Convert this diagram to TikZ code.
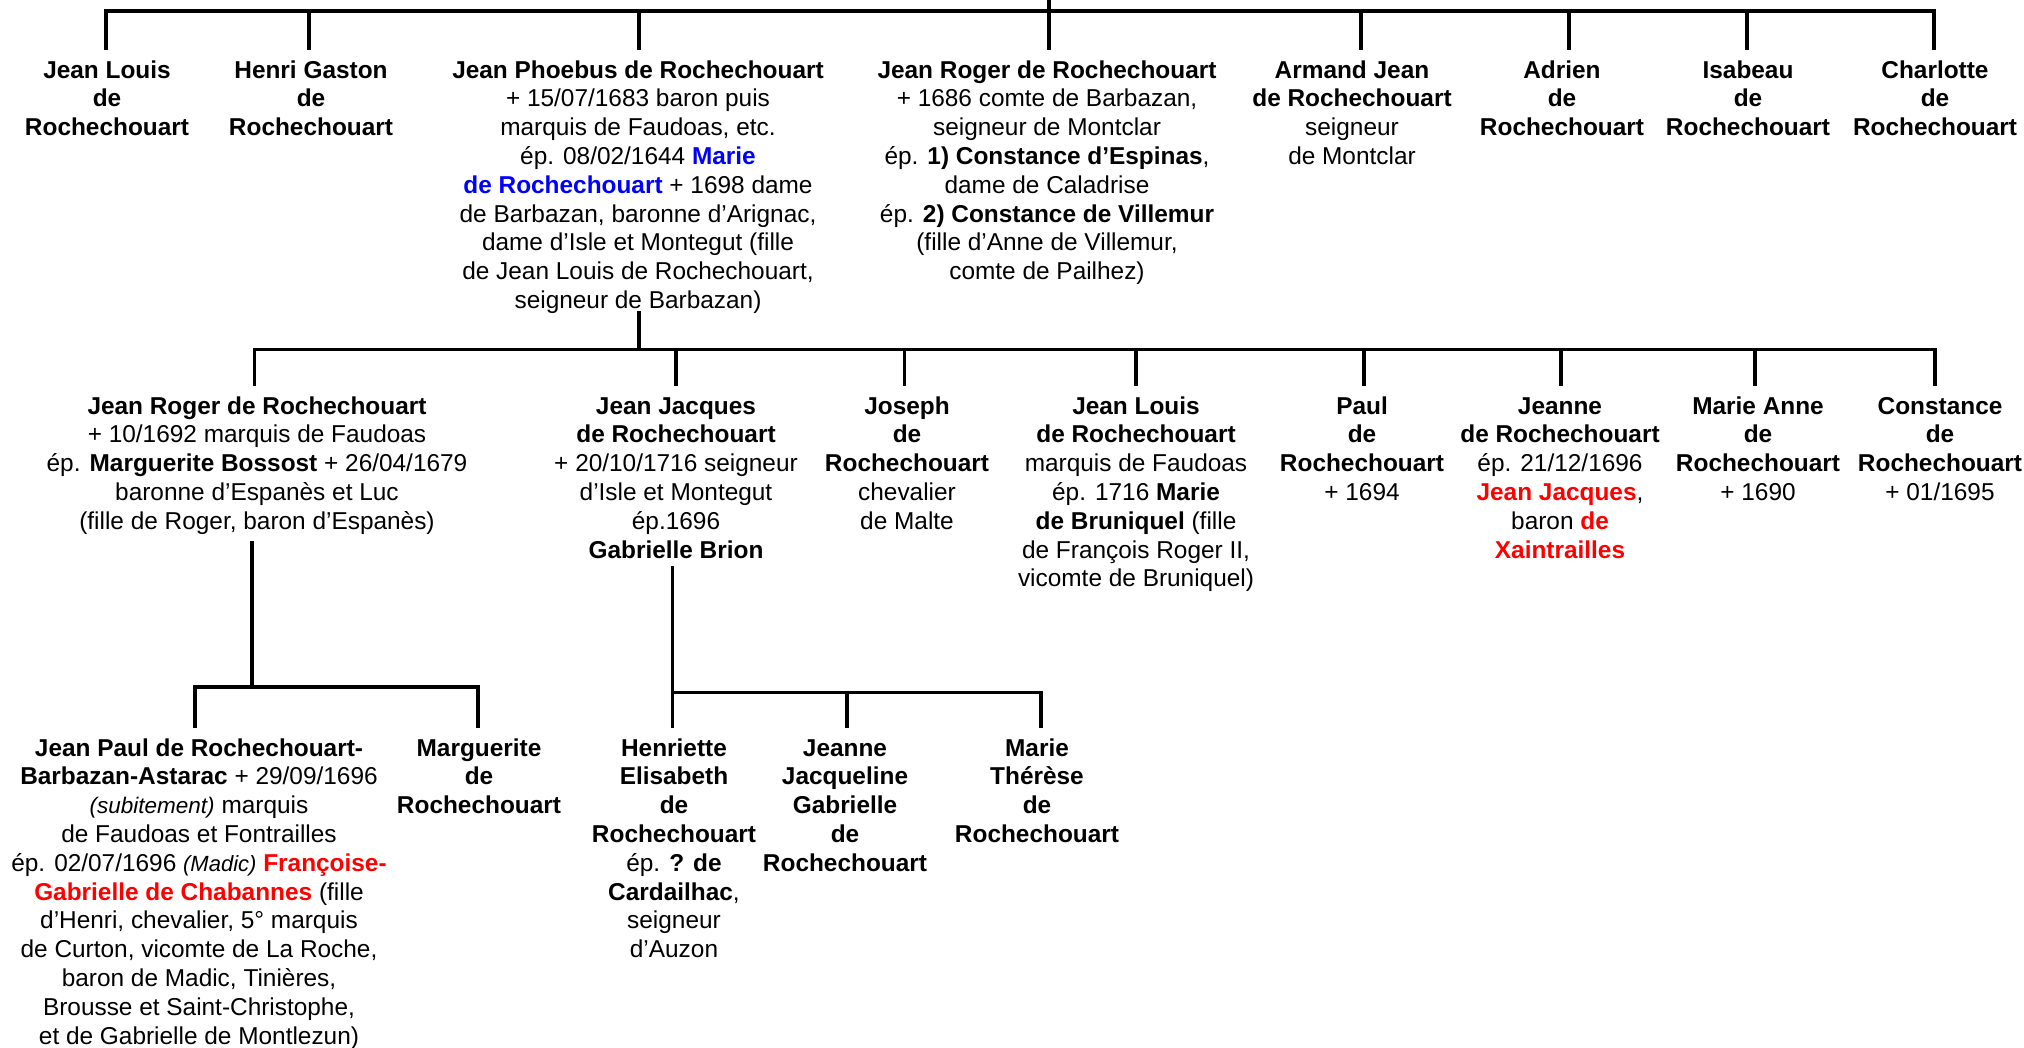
\documentclass[tikz,border=0pt]{standalone}
\usepackage{fontspec}
\setmainfont{Liberation Sans}
\usepackage{xcolor}
\definecolor{myblue}{RGB}{0,0,255}
\definecolor{myred}{RGB}{255,0,0}
\newcommand{\blueb}[1]{\textcolor{myblue}{\textbf{#1}}}
\newcommand{\redb}[1]{\textcolor{myred}{\textbf{#1}}}
\newcommand{\smit}[2][22.5]{{\fontsize{#1}{28.8}\selectfont\itshape #2}}
\tikzset{
  person/.style={anchor=north, align=center, inner xsep=0pt, inner ysep=9pt,
    font=\fontsize{24.4}{28.8}\selectfont},
  ln/.style={line width=3.2pt, line cap=rect},
}
\begin{document}
\begin{tikzpicture}[x=1pt,y=-1pt]
\path[fill=white,use as bounding box] (0,0) rectangle (2024,1048);

% ---------- generation 1 ----------
\node[person] (jl) at (107,48.8) {\strut\textbf{Jean Louis}\\\textbf{de}\\\textbf{Rochechouart}};
\node[person] (hg) at (311,48.8) {\strut\textbf{Henri Gaston}\\\textbf{de}\\\textbf{Rochechouart}};
\node[person] (jp) at (638,48.8) {\strut\textbf{Jean Phoebus de Rochechouart}\\+ 15/07/1683 baron puis\\marquis de Faudoas, etc.\\ép. 08/02/1644 \blueb{Marie}\\\blueb{de Rochechouart} + 1698 dame\\de Barbazan, baronne d’Arignac,\\dame d’Isle et Montegut (fille\\de Jean Louis de Rochechouart,\\seigneur de Barbazan)};
\node[person] (jr) at (1047,48.8) {\strut\textbf{Jean Roger de Rochechouart}\\+ 1686 comte de Barbazan,\\seigneur de Montclar\\ép. \textbf{1) Constance d’Espinas},\\dame de Caladrise\\ép. \textbf{2) Constance de Villemur}\\(fille d’Anne de Villemur,\\comte de Pailhez)};
\node[person] (aj) at (1352,48.8) {\strut\textbf{Armand Jean}\\\textbf{de Rochechouart}\\seigneur\\de Montclar};
\node[person] (ad) at (1562,48.8) {\strut\textbf{Adrien}\\\textbf{de}\\\textbf{Rochechouart}};
\node[person] (is) at (1748,48.8) {\strut\textbf{Isabeau}\\\textbf{de}\\\textbf{Rochechouart}};
\node[person] (ch) at (1935,48.8) {\strut\textbf{Charlotte}\\\textbf{de}\\\textbf{Rochechouart}};

% ---------- generation 2 ----------
\node[person] (jr2) at (257,384.8) {\strut\textbf{Jean Roger de Rochechouart}\\+ 10/1692 marquis de Faudoas\\ép. \textbf{Marguerite Bossost} + 26/04/1679\\baronne d’Espanès et Luc\\(fille de Roger, baron d’Espanès)};
\node[person] (jj) at (676,384.8) {\strut\textbf{Jean Jacques}\\\textbf{de Rochechouart}\\+ 20/10/1716 seigneur\\d’Isle et Montegut\\ép.1696\\\textbf{Gabrielle Brion}};
\node[person] (jo) at (907,384.8) {\strut\textbf{Joseph}\\\textbf{de}\\\textbf{Rochechouart}\\chevalier\\de Malte};
\node[person] (jl2) at (1136,384.8) {\strut\textbf{Jean Louis}\\\textbf{de Rochechouart}\\marquis de Faudoas\\ép. 1716 \textbf{Marie}\\\textbf{de Bruniquel} (fille\\de François Roger II,\\vicomte de Bruniquel)};
\node[person] (pa) at (1362,384.8) {\strut\textbf{Paul}\\\textbf{de}\\\textbf{Rochechouart}\\+ 1694};
\node[person] (je) at (1560,384.8) {\strut\textbf{Jeanne}\\\textbf{de Rochechouart}\\ép. 21/12/1696\\\redb{Jean Jacques},\\baron \redb{de}\\\redb{Xaintrailles}};
\node[person] (ma) at (1758,384.8) {\strut\textbf{Marie Anne}\\\textbf{de}\\\textbf{Rochechouart}\\+ 1690};
\node[person] (co) at (1940,384.8) {\strut\textbf{Constance}\\\textbf{de}\\\textbf{Rochechouart}\\+ 01/1695};

% ---------- generation 3 ----------
\node[person] (jpa) at (199,726.8) {\strut\textbf{Jean Paul de Rochechouart-}\\\textbf{Barbazan-Astarac} + 29/09/1696\\\smit{(subitement)} marquis\\de Faudoas et Fontrailles\\ép. 02/07/1696 \smit[22]{(Madic)} \redb{Françoise-}\\\redb{Gabrielle de Chabannes} (fille\\d’Henri, chevalier, 5° marquis\\de Curton, vicomte de La Roche,\\baron de Madic, Tinières,\\Brousse et Saint-Christophe,\\et de Gabrielle de Montlezun)};
\node[person] (mg) at (479,726.8) {\strut\textbf{Marguerite}\\\textbf{de}\\\textbf{Rochechouart}};
\node[person] (he) at (674,726.8) {\strut\textbf{Henriette}\\\textbf{Elisabeth}\\\textbf{de}\\\textbf{Rochechouart}\\ép. \textbf{? de}\\\textbf{Cardailhac},\\seigneur\\d’Auzon};
\node[person] (jjg) at (845,726.8) {\strut\textbf{Jeanne}\\\textbf{Jacqueline}\\\textbf{Gabrielle}\\\textbf{de}\\\textbf{Rochechouart}};
\node[person] (mt) at (1037,726.8) {\strut\textbf{Marie}\\\textbf{Thérèse}\\\textbf{de}\\\textbf{Rochechouart}};

% ---------- connectors, generation 1 ----------
\coordinate (root) at (1049,0);
\coordinate (b1L) at (106,11);
\coordinate (b1R) at (1934,11);
\draw[ln] (root) -- (root |- b1L);
\draw[ln] (b1L) -- (b1R);
\foreach \n/\dx in {jl/-1,hg/-2,jp/1,jr/2,aj/9,ad/7,is/-1,ch/-1}
  \draw[ln] ([xshift=\dx pt]\n.north) -- ++(0,-37.8);

% ---------- connectors, generation 2 ----------
\coordinate (jp-out) at (639,312.3);
\coordinate (b2L) at (254.5,349.3);
\coordinate (b2R) at (1935,349.3);
\draw[ln] (jp-out) -- (jp-out |- b2L);
\draw[ln] (b2L) -- (b2R);
\foreach \n/\dx in {jr2/-2.5,jj/0,jo/-2.4,jl2/0,pa/2,je/1,ma/-3,co/-5}
  \draw[ln] ([xshift=\dx pt]\n.north) -- ++(0,-35.5);

% ---------- connectors, generation 3 ----------
\coordinate (jr2-out) at (252,543);
\coordinate (b3L) at (195,687);
\coordinate (b3R) at (478,687);
\draw[ln] (jr2-out) -- (jr2-out |- b3L);
\draw[ln] (b3L) -- (b3R);
\foreach \n/\dx in {jpa/-4,mg/-1}
  \draw[ln] ([xshift=\dx pt]\n.north) -- ++(0,-39.8);

\coordinate (jj-out) at (672.3,568);
\coordinate (b4R) at (1041,692.3);
\draw[ln] (jj-out) -- (jj-out |- he.north);
\draw[ln] (jj-out |- b4R) -- (b4R);
\foreach \n/\dx in {jjg/2,mt/4}
  \draw[ln] ([xshift=\dx pt]\n.north) -- ++(0,-34.5);
\end{tikzpicture}
\end{document}
